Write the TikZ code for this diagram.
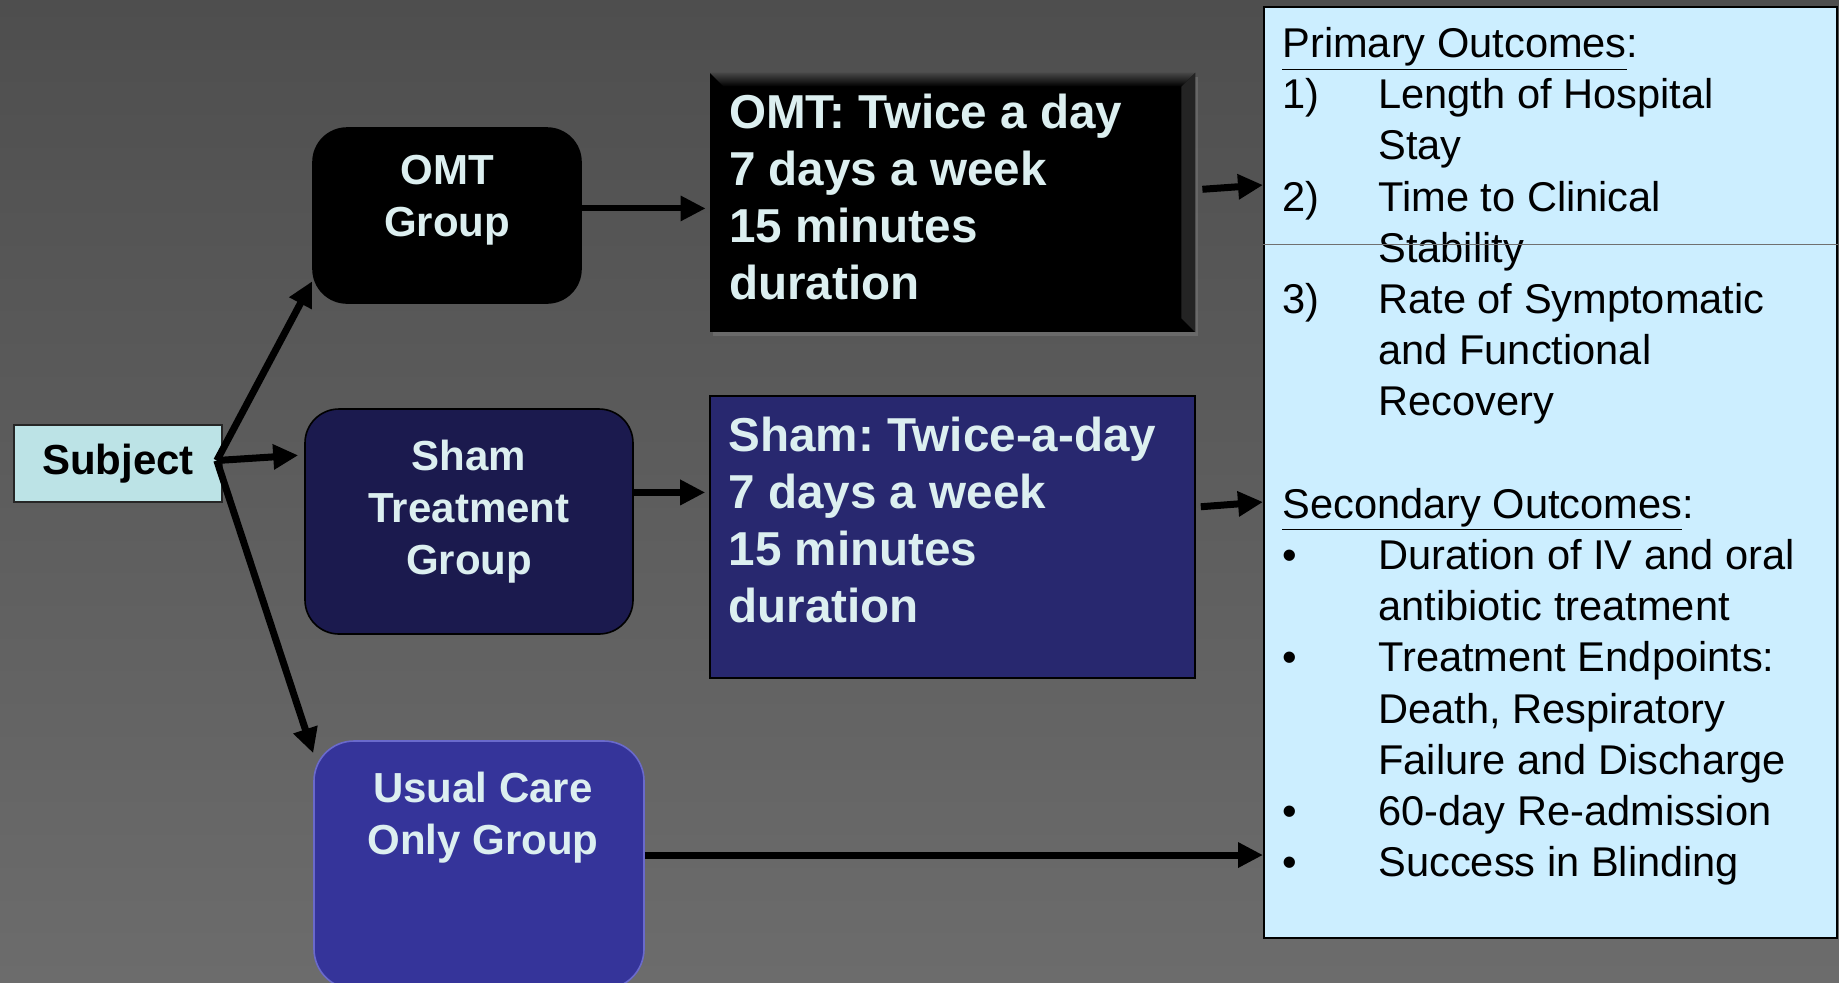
\documentclass[tikz,border=0pt]{standalone}
\usepackage{fontspec}
\setmainfont{Liberation Sans}
\usetikzlibrary{positioning,arrows.meta,calc,shadows}
\frenchspacing

\definecolor{bgtop}{HTML}{4E4E4E}
\definecolor{bgbot}{HTML}{6C6C6C}
\definecolor{subjfill}{HTML}{BCE3E6}
\definecolor{shamgrpfill}{HTML}{1B1A4E}
\definecolor{usualfill}{HTML}{35349A}
\definecolor{usualdraw}{HTML}{6A6ACC}
\definecolor{shamboxfill}{HTML}{28286F}
\definecolor{outfill}{HTML}{CCEEFF}
\definecolor{lbltext}{HTML}{DCEFF0}
\definecolor{sepgray}{HTML}{707070}

\newcommand{\outnum}[1]{\makebox[48pt][l]{#1}}

\begin{document}
\begin{tikzpicture}[x=0.5pt,y=-0.5pt,
   grpbox/.style={rounded corners=17pt, draw=black, line width=0.8pt},
   grptext/.style={text=lbltext, font=\bfseries\fontsize{21}{26}\selectfont, align=center, inner sep=0pt},
   dosetext/.style={text=lbltext, font=\bfseries\fontsize{23.8}{28.5}\selectfont, align=left, inner sep=0pt},
   outtext/.style={text=black, font=\fontsize{20.8}{25.6}\selectfont, align=left, inner sep=0pt},
   flow/.style={line width=3.5pt, -{Triangle[length=12.5pt,width=12pt]}}]
   \clip (0,0) rectangle (1839,982);
   \shade[top color=bgtop, bottom color=bgbot] (0,0) rectangle (1839,982);

   % outcomes
   \node[draw=black, line width=1pt, fill=outfill, minimum width=286.5pt, minimum height=465.5pt] (outbox) at (1550.5,472.5) {};
   \node[outtext, below right=10.5pt and 9.5pt of outbox.north west] (outlist) {%
     \underline{Primary Outcomes}:\\
     \outnum{1)}Length of Hospital\\
     \outnum{}Stay\\
     \outnum{2)}Time to Clinical\\
     \outnum{}Stability\\
     \outnum{3)}Rate of Symptomatic\\
     \outnum{}and Functional\\
     \outnum{}Recovery\\[25.6pt]
     \underline{Secondary Outcomes}:\\
     \outnum{\textbullet}Duration of IV and oral\\
     \outnum{}antibiotic treatment\\
     \outnum{\textbullet}Treatment Endpoints:\\
     \outnum{}Death, Respiratory\\
     \outnum{}Failure and Discharge\\
     \outnum{\textbullet}60-day Re-admission\\
     \outnum{\textbullet}Success in Blinding};
   \draw[sepgray, line width=0.5pt] (outbox.west |- 0,244) -- (outbox.east |- 0,244);

   % subject and groups
   \node[draw=black!85, line width=0.8pt, fill=subjfill, minimum width=104pt, minimum height=38.5pt,
         font=\bfseries\fontsize{21}{26}\selectfont] (subject) at (118,463.5) {Subject};
   \coordinate (split) at ($(subject.east)+(-6,-3)$);

   \node[grpbox, fill=black, minimum width=134pt, minimum height=87.5pt] (omtgrp) at (447,215.5) {};
   \node[grptext, below=14pt of omtgrp.north] (omtlbl) {OMT\\Group};

   \node[grpbox, fill=shamgrpfill, minimum width=164pt, minimum height=112.5pt] (shamgrp) at (469,521.5) {};
   \node[grptext, below=15.5pt of shamgrp.north] (shamlbl) {Sham\\Treatment\\Group};

   \node[grpbox, draw=usualdraw, fill=usualfill, rounded corners=20pt, minimum width=165pt, minimum height=124pt] (usualgrp) at (479,865) {};
   \node[grptext, below=15.5pt of usualgrp.north, xshift=2pt] (usuallbl) {Usual Care\\Only Group};

   % treatment boxes
   \node[fill=black, minimum width=242.5pt, minimum height=129.5pt,
         drop shadow={opacity=0.45, shadow xshift=1.5pt, shadow yshift=-2pt}] (omtbox) at (952.5,202.5) {};
   \shade[top color=black!72, bottom color=black] (omtbox.north west) -- (omtbox.north east)
      -- ($(omtbox.north east)+(-14,14)$) -- ($(omtbox.north west)+(14,14)$) -- cycle;
   \fill[black!86] (omtbox.north east) -- (omtbox.south east)
      -- ($(omtbox.south east)+(-14,-14)$) -- ($(omtbox.north east)+(-14,14)$) -- cycle;
   \node[dosetext, below right=10.5pt and 9.5pt of omtbox.north west] (omtlist)
      {OMT: Twice a day\\7 days a week\\15 minutes\\duration};

   \node[draw=black, line width=0.8pt, fill=shamboxfill, minimum width=242.5pt, minimum height=141pt] (shambox) at (952.5,537) {};
   \node[dosetext, below right=10.5pt and 9.5pt of shambox.north west] (shamlist)
      {Sham: Twice-a-day\\7 days a week\\15 minutes\\duration};

   % connectors
   \draw[flow] (split) -- (omtgrp.206);
   \draw[flow, shorten >=3pt] (split) -- (shamgrp.158);
   \draw[flow] (split) -- (usualgrp.146);
   \draw[flow, line width=3pt, shorten >=2pt] (omtgrp.3) -- (omtgrp.3 -| omtbox.west);
   \draw[flow, shorten >=2pt] (shamgrp.10) -- (shamgrp.10 -| shambox.west);
   \draw[flow, shorten <=3.5pt] (omtbox.3) -- (outbox.west |- 0,185);
   \draw[flow, shorten <=2.5pt] (shambox.7) -- (outbox.west |- 0,502);
   \draw[flow] (usualgrp.east |- 0,855) -- (outbox.west |- 0,855);
\end{tikzpicture}
\end{document}
